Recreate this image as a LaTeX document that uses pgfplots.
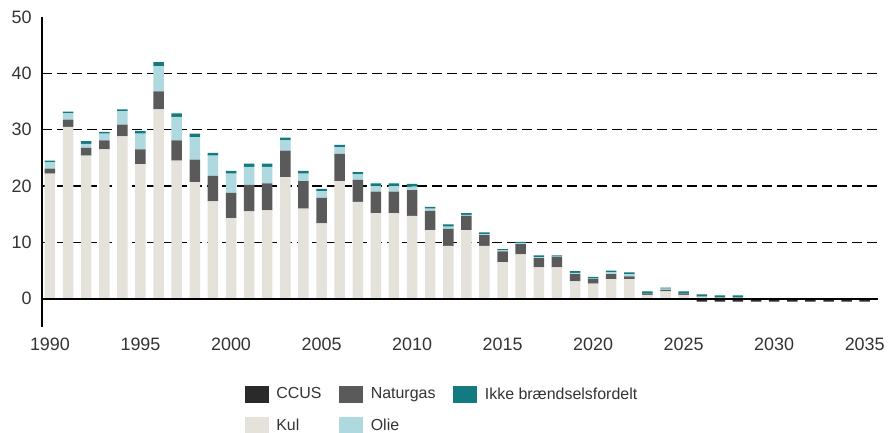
\documentclass[border=0pt]{standalone}
\usepackage{fontspec}
\setmainfont{Liberation Sans}
\usepackage{pgfplots}
\usepackage{pgfplotstable}
\pgfplotsset{compat=1.18}
\definecolor{kul}{HTML}{E5E2DC}
\definecolor{naturgas}{HTML}{5A5A5A}
\definecolor{olie}{HTML}{ADD9DF}
\definecolor{ikke}{HTML}{137A80}
\definecolor{ccus}{HTML}{2A2A2A}
\definecolor{txt}{HTML}{333333}

\pgfplotstableread{
year kul naturgas olie ikke ccus
1990 22.2 0.9 1.1 0.3 0
1991 30.5 1.3 1.1 0.3 0
1992 25.4 1.4 0.7 0.5 0
1993 26.5 1.6 1.2 0.3 0
1994 28.8 2.1 2.4 0.3 0
1995 23.9 2.6 2.8 0.5 0
1996 33.6 3.2 4.5 0.7 0
1997 24.5 3.6 4.2 0.6 0
1998 20.7 4.0 4.0 0.6 0
1999 17.3 4.5 3.6 0.5 0
2000 14.3 4.5 3.4 0.5 0
2001 15.5 4.7 3.2 0.6 0
2002 15.7 4.8 2.9 0.6 0
2003 21.6 4.7 1.8 0.5 0
2004 16.0 4.9 1.3 0.5 0
2005 13.4 4.5 1.2 0.4 0
2006 20.9 4.8 1.2 0.4 0
2007 17.2 3.9 1.0 0.4 0
2008 15.2 3.8 1.0 0.5 0
2009 15.2 3.8 1.0 0.5 0
2010 14.7 4.6 0.6 0.5 0
2011 12.2 3.4 0.4 0.3 0
2012 9.4 3.0 0.4 0.4 0
2013 12.2 2.5 0.2 0.3 0
2014 9.4 1.9 0.2 0.3 0
2015 6.5 1.9 0.2 0.2 0
2016 7.9 1.8 0.2 0.2 0
2017 5.6 1.6 0.2 0.3 0
2018 5.6 1.8 0.1 0.2 0
2019 3.1 1.3 0.2 0.3 0
2020 2.7 0.8 0.1 0.3 0
2021 3.5 0.9 0.3 0.3 0
2022 3.5 0.5 0.4 0.3 0
2023 0.7 0.2 0.0 0.4 0
2024 1.3 0.3 0.2 0.2 0
2025 0.7 0.2 0.0 0.4 0
2026 0.3 0.0 0.1 0.4 -0.5
2027 0.1 0.0 0.1 0.4 -0.5
2028 0.1 0.0 0.1 0.4 -0.5
2029 0 0 0 0 -0.5
2030 0 0 0 0 -0.5
2031 0 0 0 0 -0.5
2032 0 0 0 0 -0.5
2033 0 0 0 0 -0.5
2034 0 0 0 0 -0.5
2035 0 0 0 0 -0.5
}\datatable

\pgfplotsset{
  common/.style={
    at={(42bp,106bp)}, anchor=south west,
    scale only axis, width=839bp, height=310bp,
    xmin=1989.56, xmax=2035.9, ymin=-5, ymax=50,
    bar width=10.5bp,
  },
}

\begin{document}
\begin{tikzpicture}
\useasboundingbox (0,0) rectangle (892bp,433bp);
\begin{axis}[common,
  ybar stacked,
  axis y line=left, axis x line=bottom,
  x axis line style={draw=none},
  y axis line style={-, line width=2bp, black},
  xtick={1990,1995,...,2035},
  ytick={0,10,...,50},
  major tick length=0pt,
  extra y ticks={10,20,30,40},
  extra y tick labels={},
  extra y tick style={grid=major, major grid style={black, line width=1.5bp, dash pattern=on 10bp off 5bp}},
  /pgf/number format/assume math mode=true,
  /pgf/number format/set thousands separator={},
  ticklabel style={font=\fontsize{18}{18}\selectfont, text=txt},
  xticklabel style={yshift=-7bp},
  yticklabel style={xshift=-7bp},
  legend style={at={(0.238,-0.182)}, anchor=north west, draw=none, fill=none,
    font=\fontsize{16}{16}\selectfont, text=txt,
    legend columns=3, row sep=14bp,
    /tikz/every odd column/.append style={column sep=6bp},
    /tikz/every even column/.append style={column sep=16bp}},
  legend cell align=left,
]
\addlegendimage{legend image code/.code={\fill[ccus] (0bp,-8bp) rectangle (23bp,8bp);}}
\addlegendentry{CCUS}
\addlegendimage{legend image code/.code={\fill[naturgas] (0bp,-8bp) rectangle (23bp,8bp);}}
\addlegendentry{Naturgas}
\addlegendimage{legend image code/.code={\fill[ikke] (0bp,-8bp) rectangle (23bp,8bp);}}
\addlegendentry{Ikke brændselsfordelt}
\addlegendimage{legend image code/.code={\fill[kul] (0bp,-8bp) rectangle (23bp,8bp);}}
\addlegendentry{Kul}
\addlegendimage{legend image code/.code={\fill[olie] (0bp,-8bp) rectangle (23bp,8bp);}}
\addlegendentry{Olie}
\addplot[fill=kul, draw=none, forget plot] table[x=year, y=kul] {\datatable};
\addplot[fill=naturgas, draw=none, forget plot] table[x=year, y=naturgas] {\datatable};
\addplot[fill=olie, draw=none, forget plot] table[x=year, y=olie] {\datatable};
\addplot[fill=ikke, draw=none, forget plot] table[x=year, y=ikke] {\datatable};
\end{axis}
\begin{axis}[common, ybar, hide axis]
\addplot[fill=ccus, draw=none] table[x=year, y=ccus] {\datatable};
\draw[black, line width=2bp] (axis cs:1989.56,0) -- (axis cs:2035.75,0);
\end{axis}
\end{tikzpicture}
\end{document}
